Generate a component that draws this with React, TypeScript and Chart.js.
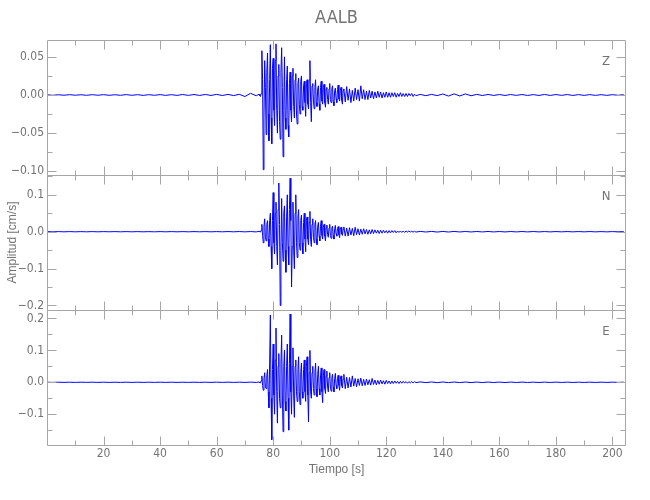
import React, { useEffect, useRef } from "react";
import { Chart, registerables } from "chart.js";

Chart.register(...registerables);

// ---------------- data ----------------
const TITLE = "AALB";
const X_TITLE = "Tiempo [s]";
const Y_TITLE = "Amplitud [cm/s]";
const X_MIN = 0;
const X_MAX = 204.8;
const X_LABELS = [20, 40, 60, 80, 100, 120, 140, 160, 180, 200];
const X_MINOR = [10, 30, 50, 70, 90, 110, 130, 150, 170, 190];

// sampling grid (s)
const PRE_START = 0;
const PRE_STEP = 2;
const ACT_START = 75;
const ACT_STEP = 0.25;
const CODA_START = 105;
const CODA_STEP = 0.5;
const POST_START = 132;
const POST_STEP = 2;

// Z component
const Z_PRE = [0.0003, -0.0004, 0.0003, -0.0003, 0.0004, -0.0003, 0.0003, -0.0004, 0.0004, -0.0003,
  0.0004, -0.0004, 0.0003, -0.0004, 0.0005, -0.0004, 0.0004, -0.0005, 0.0004, -0.0004,
  0.0005, -0.0005, 0.0004, -0.0005, 0.0006, -0.0005, 0.0006, -0.0006, 0.0007, -0.0006,
  0.0008, -0.0007, 0.0008, -0.0008, 0.0009, -0.002, 0.0022, -0.001];
const Z_ACT = [0.001, -0.001, -0.002, 0.002, 0.058, 0.02, -0.098, -0.03, 0.045, 0.01,
  -0.052, 0.03, 0.055, -0.025, -0.06, 0.02, 0.066, -0.03, -0.064, 0.035,
  0.048, -0.02, -0.04, 0.045, 0.067, -0.02, -0.05, 0.025, 0.04, -0.035,
  -0.058, 0.03, 0.062, 0.01, -0.081, -0.02, 0.05, -0.03, -0.045, 0.02,
  0.038, -0.04, -0.055, 0.015, 0.03, -0.02, -0.035, 0.025, 0.035, -0.015,
  -0.03, 0.02, 0.028, -0.025, -0.038, 0.015, 0.022, -0.012, -0.025, 0.018,
  0.025, -0.015, -0.02, 0.012, 0.018, -0.01, -0.028, 0.015, 0.02, -0.012,
  -0.018, 0.02, 0.045, -0.01, -0.035, 0.012, 0.015, -0.008, -0.018, 0.01,
  0.02, -0.01, -0.015, 0.008, 0.012, -0.012, -0.02, 0.01, 0.018, -0.008,
  -0.012, 0.01, 0.014, -0.01, -0.016, 0.008, 0.01, -0.006, -0.012, 0.008,
  0.015, -0.006, -0.01, 0.008, 0.012, -0.009, -0.014, 0.006, 0.009, -0.005,
  -0.01, 0.007, 0.013, -0.005, -0.008, 0.006, 0.01, -0.007, -0.012, 0.006];
const Z_CODA = [0.008, -0.009, 0.011, -0.007, 0.008, -0.01, 0.006, -0.008, 0.009, -0.006,
  0.007, -0.008, 0.012, -0.005, 0.007, -0.006, 0.005, -0.006, 0.006, -0.004,
  0.005, -0.005, 0.004, -0.004, 0.005, -0.003, 0.004, -0.004, 0.003, -0.003,
  0.004, -0.003, 0.003, -0.003, 0.003, -0.002, 0.003, -0.003, 0.002, -0.002,
  0.003, -0.002, 0.002, -0.002, 0.002, -0.002, 0.002, -0.001, 0.002, -0.002,
  0.001, -0.001];
const Z_POST = [0.0008, -0.0009, 0.0008, -0.0008, 0.0013, -0.0014, 0.0015, -0.0013, 0.0014, -0.001,
  0.0008, -0.0007, 0.0007, -0.0006, 0.0006, -0.0006, 0.0006, -0.0005, 0.0006, -0.0006,
  0.0005, -0.0006, 0.0007, -0.0006, 0.0006, -0.0005, 0.0006, -0.0006, 0.0005, -0.0005,
  0.0005, -0.0005, 0.0004, -0.0005, 0.0004, -0.0004, 0.0004];

// N component
const N_PRE = [0.0003, -0.0003, 0.0003, -0.0003, 0.0003, -0.0003, 0.0002, -0.0003, 0.0003, -0.0003,
  0.0003, -0.0002, 0.0003, -0.0003, 0.0003, -0.0003, 0.0003, -0.0003, 0.0002, -0.0003,
  0.0003, -0.0003, 0.0003, -0.0003, 0.0003, -0.0003, 0.0003, -0.0003, 0.0003, -0.0003,
  0.0003, -0.0003, 0.0004, -0.0003, 0.0004, -0.0004, 0.0004, -0.0005];
const N_ACT = [0.001, 0.0, -0.001, 0.004, 0.02, -0.01, -0.03, 0.015, 0.035, -0.015,
  -0.025, 0.02, 0.03, -0.02, -0.04, 0.03, 0.05, -0.04, -0.1, 0.03,
  0.106, -0.03, -0.06, 0.05, 0.08, -0.04, -0.09, 0.06, 0.132, 0.02,
  -0.2, -0.05, 0.09, -0.03, -0.08, 0.05, 0.07, -0.05, -0.11, 0.04,
  0.1, -0.04, -0.09, 0.06, 0.145, 0.03, -0.15, -0.04, 0.08, -0.05,
  -0.1, 0.05, 0.1, -0.03, -0.07, 0.04, 0.06, -0.03, -0.05, 0.03,
  0.045, -0.03, -0.06, 0.025, 0.05, -0.02, -0.054, 0.03, 0.04, -0.02,
  -0.035, 0.025, 0.055, -0.02, -0.04, 0.02, 0.035, -0.015, -0.03, 0.02,
  0.03, -0.02, -0.035, 0.015, 0.025, -0.012, -0.025, 0.015, 0.03, -0.01,
  -0.02, 0.012, 0.02, -0.012, -0.025, 0.01, 0.018, -0.008, -0.015, 0.01,
  0.02, -0.01, -0.018, 0.01, 0.015, -0.01, -0.02, 0.008, 0.017, -0.006,
  -0.012, 0.008, 0.014, -0.008, -0.016, 0.007, 0.012, -0.006, -0.01, 0.006];
const N_CODA = [0.013, -0.012, 0.01, -0.012, 0.011, -0.009, 0.009, -0.011, 0.012, -0.008,
  0.008, -0.009, 0.007, -0.007, 0.008, -0.006, 0.006, -0.007, 0.005, -0.006,
  0.006, -0.005, 0.005, -0.004, 0.004, -0.005, 0.004, -0.004, 0.004, -0.003,
  0.003, -0.004, 0.003, -0.003, 0.003, -0.002, 0.003, -0.003, 0.002, -0.002,
  0.002, -0.002, 0.002, -0.002, 0.002, -0.001, 0.002, -0.001, 0.001, -0.001,
  0.001, -0.001];
const N_POST = [0.0009, -0.0008, 0.0008, -0.0009, 0.0007, -0.0008, 0.0007, -0.0007, 0.0006, -0.0007,
  0.0006, -0.0006, 0.0006, -0.0006, 0.0005, -0.0006, 0.0005, -0.0005, 0.0005, -0.0005,
  0.0005, -0.0005, 0.0004, -0.0005, 0.0004, -0.0004, 0.0004, -0.0004, 0.0004, -0.0004,
  0.0004, -0.0004, 0.0003, -0.0004, 0.0003, -0.0003, 0.0003];

// E component
const E_PRE = [0.0003, -0.0003, 0.0003, -0.0003, 0.0003, -0.0003, 0.0003, -0.0002, 0.0003, -0.0003,
  0.0003, -0.0003, 0.0002, -0.0003, 0.0003, -0.0003, 0.0003, -0.0003, 0.0003, -0.0003,
  0.0003, -0.0003, 0.0003, -0.0003, 0.0003, -0.0003, 0.0003, -0.0003, 0.0003, -0.0003,
  0.0004, -0.0003, 0.0004, -0.0004, 0.0004, -0.0004, 0.0005, -0.0005];
const E_ACT = [0.001, -0.001, -0.002, 0.005, 0.02, -0.01, -0.025, 0.012, 0.03, -0.015,
  -0.02, 0.02, 0.04, -0.03, -0.08, 0.06, 0.211, -0.05, -0.18, 0.04,
  0.12, -0.04, -0.1, 0.07, 0.17, -0.03, -0.128, 0.05, 0.09, -0.05,
  -0.08, 0.06, 0.148, -0.04, -0.155, 0.05, 0.1, -0.06, -0.09, 0.05,
  0.12, -0.05, -0.15, 0.06, 0.214, -0.03, -0.1, 0.05, 0.108, -0.04,
  -0.11, 0.05, 0.07, -0.03, -0.06, 0.04, 0.08, -0.03, -0.07, 0.03,
  0.06, -0.03, -0.05, 0.04, 0.07, -0.03, -0.06, 0.05, 0.08, -0.04,
  -0.124, 0.03, 0.1, -0.03, -0.05, 0.03, 0.05, -0.02, -0.04, 0.03,
  0.06, -0.02, -0.045, 0.025, 0.05, -0.02, -0.04, 0.02, 0.045, -0.03,
  -0.064, 0.02, 0.04, -0.02, -0.035, 0.02, 0.035, -0.015, -0.03, 0.015,
  0.03, -0.015, -0.028, 0.015, 0.025, -0.015, -0.03, 0.012, 0.028, -0.01,
  -0.02, 0.012, 0.022, -0.01, -0.025, 0.01, 0.02, -0.01, -0.018, 0.01];
const E_CODA = [0.025, -0.02, 0.016, -0.018, 0.015, -0.015, 0.02, -0.012, 0.012, -0.014,
  0.011, -0.01, 0.013, -0.011, 0.009, -0.01, 0.01, -0.008, 0.008, -0.009,
  0.012, -0.007, 0.007, -0.008, 0.006, -0.006, 0.007, -0.005, 0.005, -0.006,
  0.006, -0.004, 0.004, -0.005, 0.004, -0.004, 0.004, -0.003, 0.003, -0.004,
  0.003, -0.003, 0.003, -0.002, 0.002, -0.003, 0.002, -0.002, 0.002, -0.002,
  0.002, -0.001];
const E_POST = [0.0011, -0.001, 0.001, -0.0011, 0.0009, -0.0009, 0.0008, -0.0009, 0.0008, -0.0008,
  0.0007, -0.0008, 0.0007, -0.0007, 0.0006, -0.0007, 0.0006, -0.0006, 0.0006, -0.0006,
  0.0005, -0.0006, 0.0005, -0.0005, 0.0005, -0.0005, 0.0005, -0.0005, 0.0004, -0.0005,
  0.0004, -0.0004, 0.0004, -0.0004, 0.0004, -0.0004, 0.0004];

// axis ranges and ticks
const Z_RANGE = [-0.1049, 0.0721];
const N_RANGE = [-0.2122, 0.1537];
const E_RANGE = [-0.1966, 0.2266];
const Z_TICKS = [-0.1, -0.05, 0, 0.05];
const N_TICKS = [-0.2, -0.1, 0, 0.1];
const E_TICKS = [-0.1, 0, 0.1, 0.2];
const Z_MINOR = [-0.075, -0.025, 0.025];
const N_MINOR = [-0.15, -0.05, 0.05, 0.15];
const E_MINOR = [-0.15, -0.05, 0.05, 0.15];

// ---------------- styles ----------------
const LINE_COLOR = "#0000ff";
const TEXT_COLOR = "#737373";
const AXIS_COLOR = "#a6a6a6";
const FONT_NARROW = '"Liberation Sans Narrow", "DejaVu Sans Condensed", "Liberation Sans", sans-serif';
const FONT_SANS = '"Liberation Sans", Arial, sans-serif';

function buildSeries(pre: number[], act: number[], coda: number[], post: number[]) {
  return [
    ...pre.map((v, i) => ({ x: PRE_START + i * PRE_STEP, y: v })),
    ...act.map((v, i) => ({ x: ACT_START + i * ACT_STEP, y: v })),
    ...coda.map((v, i) => ({ x: CODA_START + i * CODA_STEP, y: v })),
    ...post.map((v, i) => ({ x: POST_START + i * POST_STEP, y: v })),
  ];
}

const PANELS = [
  { id: "yZ", label: "Z", range: Z_RANGE, ticks: Z_TICKS, minor: Z_MINOR, dec: 2, weight: 3 },
  { id: "yN", label: "N", range: N_RANGE, ticks: N_TICKS, minor: N_MINOR, dec: 1, weight: 2 },
  { id: "yE", label: "E", range: E_RANGE, ticks: E_TICKS, minor: E_MINOR, dec: 1, weight: 1 },
];

function fmt(v: number, dec: number) {
  const s = Math.abs(v).toFixed(dec);
  return v < -1e-9 ? "\u2212" + s : s;
}

const panelPlugin = {
  id: "panelFrames",
  afterDraw(chart: any) {
    const ctx = chart.ctx;
    const xs = chart.scales.x;
    const area = chart.chartArea;
    const L = Math.round(area.left) + 0.5;
    const R = Math.round(area.right) - 0.5;
    ctx.save();
    ctx.strokeStyle = AXIS_COLOR;
    ctx.lineWidth = 1;
    PANELS.forEach((p) => {
      const ys = chart.scales[p.id];
      const T = Math.round(ys.top) + 0.5;
      const B = Math.round(ys.bottom) + 0.5;
      ctx.beginPath();
      ctx.rect(L, T, R - L, B - T);
      const yTick = (v: number, len: number) => {
        const y = Math.round(ys.getPixelForValue(v)) + 0.5;
        ctx.moveTo(L, y);
        ctx.lineTo(L + len, y);
        ctx.moveTo(R, y);
        ctx.lineTo(R - len, y);
      };
      p.ticks.forEach((v) => yTick(v, 9));
      p.minor.forEach((v) => yTick(v, 5));
      const xTick = (v: number, len: number) => {
        const x = Math.round(xs.getPixelForValue(v)) + 0.5;
        ctx.moveTo(x, T);
        ctx.lineTo(x, T + len);
        ctx.moveTo(x, B);
        ctx.lineTo(x, B - len);
      };
      X_LABELS.forEach((v) => xTick(v, 9));
      X_MINOR.forEach((v) => xTick(v, 5));
      ctx.stroke();
      ctx.fillStyle = TEXT_COLOR;
      ctx.font = `13px ${FONT_NARROW}`;
      ctx.textAlign = "center";
      ctx.textBaseline = "middle";
      ctx.fillText(p.label, area.right - 20, ys.top + 22);
    });
    ctx.fillStyle = TEXT_COLOR;
    ctx.textAlign = "center";
    ctx.textBaseline = "middle";
    ctx.font = `18px ${FONT_NARROW}`;
    ctx.fillText(TITLE, (L + R) / 2, 18);
    ctx.font = `12px ${FONT_SANS}`;
    ctx.fillText(X_TITLE, (L + R) / 2, 470);
    ctx.translate(13, (area.top + area.bottom) / 2);
    ctx.rotate(-Math.PI / 2);
    ctx.fillText(Y_TITLE, 0, 0);
    ctx.restore();
  },
};

export default function App() {
  const ref = useRef<HTMLCanvasElement>(null);
  useEffect(() => {
    if (!ref.current) return;
    const yScales: any = {};
    PANELS.forEach((p) => {
      yScales[p.id] = {
        type: "linear",
        position: "left",
        stack: "panels",
        stackWeight: 1,
        weight: p.weight,
        min: p.range[0],
        max: p.range[1],
        offset: false,
        grid: { display: false, drawTicks: false },
        border: { display: false },
        afterBuildTicks: (scale: any) => {
          scale.ticks = p.ticks.map((v) => ({ value: v }));
        },
        afterFit: (scale: any) => {
          scale.width = 47;
        },
        ticks: {
          padding: 3,
          color: TEXT_COLOR,
          font: { family: FONT_NARROW, size: 12 },
          callback: (v: number) => fmt(v, p.dec),
        },
      };
    });
    const chart = new Chart(ref.current, {
      type: "line",
      data: {
        datasets: [
          { data: buildSeries(Z_PRE, Z_ACT, Z_CODA, Z_POST), yAxisID: "yZ" },
          { data: buildSeries(N_PRE, N_ACT, N_CODA, N_POST), yAxisID: "yN" },
          { data: buildSeries(E_PRE, E_ACT, E_CODA, E_POST), yAxisID: "yE" },
        ].map((d) => ({
          ...d,
          borderColor: LINE_COLOR,
          borderWidth: 1,
          pointRadius: 0,
          tension: 0,
          fill: false,
        })),
      },
      options: {
        animation: false,
        responsive: false,
        devicePixelRatio: 1,
        layout: { padding: { top: 40, right: 24, left: 0, bottom: 0 } },
        plugins: { legend: { display: false }, tooltip: { enabled: false }, title: { display: false } },
        events: [],
        scales: {
          x: {
            type: "linear",
            position: "bottom",
            min: X_MIN,
            max: X_MAX,
            grid: { display: false, drawTicks: false },
            border: { display: false },
            afterBuildTicks: (scale: any) => {
              scale.ticks = X_LABELS.map((v) => ({ value: v }));
            },
            afterFit: (scale: any) => {
              scale.height = 55;
            },
            ticks: {
              padding: 2,
              autoSkip: false,
              maxRotation: 0,
              color: TEXT_COLOR,
              font: { family: FONT_NARROW, size: 12 },
              callback: (v: number) => String(v),
            },
          },
          ...yScales,
        },
      } as any,
      plugins: [panelPlugin],
    });
    return () => chart.destroy();
  }, []);
  return (
    <div style={{ position: "fixed", left: 0, top: 0, width: 650, height: 500, background: "#fff" }}>
      <canvas ref={ref} width={650} height={500} style={{ width: 650, height: 500, display: "block" }} />
    </div>
  );
}
